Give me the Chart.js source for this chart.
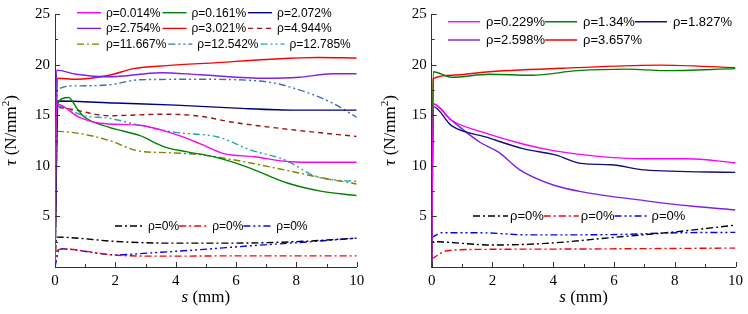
<!DOCTYPE html>
<html lang="en">
<head>
<meta charset="UTF-8">
<title>Bond stress vs slip</title>
<script src="https://cdn.jsdelivr.net/npm/chart.js"></script>
<style>
  body, html { margin: 0; padding: 0; background: #fff; overflow: hidden; }
  .panel { position: absolute; top: 0; width: 374px; height: 314px; }
</style>
</head>
<body>
<div class="panel" style="left:0"><canvas id="leftChart" width="374" height="314"></canvas></div>
<div class="panel" style="left:374px"><canvas id="rightChart" width="374" height="314"></canvas></div>
<script>
// labels
const leftLabels = ['ρ=0.014%', 'ρ=0.161%', 'ρ=2.072%', 'ρ=2.754%', 'ρ=3.021%', 'ρ=4.944%',
    'ρ=11.667%', 'ρ=12.542%', 'ρ=12.785%', 'ρ=0%', 'ρ=0%', 'ρ=0%'];
const rightLabels = ['ρ=0.229%', 'ρ=1.34%', 'ρ=1.827%', 'ρ=2.598%', 'ρ=3.657%', 'ρ=0%', 'ρ=0%', 'ρ=0%'];
const xTicks = [0, 2, 4, 6, 8, 10];
const yTicks = [5, 10, 15, 20, 25];

// left panel, [s (mm), tau (N/mm2)]
const L_0014 = [[0,0],[0.05,16.1],[0.8,14.8],[1.5,14.2],[2.8,14.0],[3.9,13.2],[4.8,12.2],[5.6,11.2],[6.6,10.9],[7.8,10.4],[8.9,10.35],[10,10.35]];
const L_0161 = [[0,0],[0.05,16.0],[0.45,16.75],[0.72,15.7],[0.94,14.9],[1.8,13.8],[2.8,13.0],[3.6,11.9],[4.35,11.4],[5.25,10.9],[6.35,9.9],[7.7,8.3],[8.8,7.5],[10,7.05]];
const L_2072 = [[0,0],[0.1,16.4],[2,16.2],[4,16.0],[6,15.7],[8,15.5],[10,15.5]];
const L_2754 = [[0,0],[0.05,19.45],[0.7,19.05],[1.8,18.8],[3.5,19.2],[4.8,19.0],[7.0,18.65],[8.1,18.75],[9.2,19.1],[10,19.1]];
const L_3021 = [[0,0],[0.08,18.65],[0.7,18.55],[1.8,18.95],[2.6,19.6],[3.7,19.9],[5.4,20.2],[7.0,20.5],[8.7,20.7],[10,20.65]];
const L_4944 = [[0,0],[0.05,15.75],[1.8,14.95],[3.7,15.1],[4.8,14.9],[5.9,14.3],[7.6,13.65],[10,12.9]];
const L_11667 = [[0,0],[0.08,13.4],[1.15,13.0],[1.8,12.5],[2.8,11.45],[3.7,11.3],[4.8,11.1],[5.9,10.6],[7.6,9.6],[8.7,8.9],[10,8.2]];
const L_12542 = [[0,0],[0.08,17.5],[0.7,17.9],[1.8,18.0],[2.8,18.5],[4.8,18.55],[7.0,18.3],[8.1,17.5],[9.2,16.2],[10,14.8]];
const L_12785 = [[0,0],[0.08,15.9],[0.95,14.95],[1.8,14.7],[2.8,14.0],[4.0,13.3],[5.4,12.85],[6.5,11.55],[7.6,10.6],[8.7,8.9],[10,8.45]];
const L_zeroA = [[0,0],[0.05,2.95],[2.05,2.52],[3.7,2.36],[5.9,2.36],[8.1,2.52],[10,2.85]];
const L_zeroB = [[0,0],[0.05,1.55],[0.22,1.78],[2.05,1.16],[3.7,1.07],[5.9,1.1],[10,1.1]];
const L_zeroC = [[0,0],[0.15,1.8],[2.05,1.2],[3.15,1.39],[4.8,1.71],[6.5,2.1],[8.1,2.42],[10,2.85]];

// right panel
const R_0229 = [[0,0],[0.05,16.1],[0.65,14.5],[1.7,13.3],[3.0,12.15],[4.0,11.5],[5.4,10.96],[7.0,10.7],[8.4,10.7],[10,10.3]];
const R_134 = [[0,0],[0.05,19.3],[0.65,18.75],[1.9,19.05],[3.3,18.95],[4.8,19.4],[6.45,19.55],[7.65,19.4],[10,19.6]];
const R_1827 = [[0,0],[0.05,15.85],[0.65,13.97],[1.8,12.83],[3.0,11.7],[4.1,11.05],[4.9,10.24],[5.9,10.1],[7.0,9.6],[10,9.35]];
const R_2598 = [[0,0],[0.05,16.1],[0.65,14.5],[1.6,12.3],[2.2,11.35],[2.9,9.6],[4.0,8.1],[5.0,7.4],[7.0,6.56],[8.6,6.0],[10,5.63]];
const R_3657 = [[0,0],[0.05,18.6],[0.65,18.95],[1.9,19.3],[4.8,19.7],[7.5,19.95],[10,19.7]];
const R_zeroA = [[0,0],[0.02,2.5],[2.0,2.17],[3.75,2.33],[5.9,2.9],[8.1,3.5],[10,4.14]];
const R_zeroB = [[0,0.8],[0.5,1.6],[1.6,1.74],[5,1.78],[10,1.87]];
const R_zeroC = [[0,2.9],[0.33,3.38],[1.6,3.38],[3.2,3.17],[5.9,3.2],[8.1,3.38],[10,3.42]];

const leftData = [L_0014, L_0161, L_2072, L_2754, L_3021, L_4944, L_11667, L_12542, L_12785, L_zeroA, L_zeroB, L_zeroC];
const rightData = [R_0229, R_134, R_1827, R_2598, R_3657, R_zeroA, R_zeroB, R_zeroC];

// line styles
const DASH = [5, 4], DASHDOT = [7, 3, 2, 3], DASHDOTDOT = [7, 3, 2, 3, 2, 3];
const leftStyles = [
    { color: '#ff00ff', dash: [] }, { color: '#008000', dash: [] }, { color: '#000080', dash: [] },
    { color: '#8020e8', dash: [] }, { color: '#ff0000', dash: [] }, { color: '#a01010', dash: DASH },
    { color: '#808000', dash: DASHDOT }, { color: '#3a6fb0', dash: DASHDOTDOT }, { color: '#20a8a8', dash: DASHDOTDOT },
    { color: '#000000', dash: DASHDOT }, { color: '#ff0000', dash: DASHDOT }, { color: '#0000ff', dash: DASHDOTDOT }
];
const rightStyles = [
    { color: '#ff00ff', dash: [] }, { color: '#008000', dash: [] }, { color: '#10107a', dash: [] },
    { color: '#8020e8', dash: [] }, { color: '#ff0000', dash: [] },
    { color: '#000000', dash: DASHDOT }, { color: '#ff0000', dash: DASHDOT }, { color: '#0000ff', dash: DASHDOTDOT }
];

const SERIF = "'Liberation Serif', 'Times New Roman', serif";
const SANS = "'Liberation Sans', Arial, sans-serif";

function makeSets(data, labels, styles) {
    return data.map((d, i) => ({
        label: labels[i],
        data: d.map(p => ({ x: p[0], y: p[1] })),
        showLine: true,
        borderColor: styles[i].color,
        borderDash: styles[i].dash,
        borderWidth: 1.4,
        pointRadius: 0,
        fill: false,
        cubicInterpolationMode: 'monotone'
    }));
}

// inward ticks, axis titles and the in-plot legends
const decor = {
    id: 'decor',
    afterDraw(chart, args, opts) {
        const ctx = chart.ctx, xs = chart.scales.x, ys = chart.scales.y, a = chart.chartArea;
        ctx.save();
        ctx.strokeStyle = '#333';
        ctx.lineWidth = 1;
        ctx.setLineDash([]);
        ctx.beginPath();
        for (let v = 0; v <= 10; v += 1) {
            const px = Math.round(xs.getPixelForValue(v)) + 0.5;
            ctx.moveTo(px, a.bottom);
            ctx.lineTo(px, a.bottom - (v % 2 === 0 ? 5 : 3));
        }
        for (let v = 0; v <= 25; v += 2.5) {
            const py = Math.round(ys.getPixelForValue(v)) + 0.5;
            ctx.moveTo(a.left, py);
            ctx.lineTo(a.left + (v % 5 === 0 ? 5 : 3), py);
        }
        ctx.stroke();

        // x title: italic s + " (mm)"
        ctx.fillStyle = '#000';
        ctx.textBaseline = 'middle';
        ctx.textAlign = 'left';
        const fi = 'italic 17px ' + SERIF, fn = '17px ' + SERIF;
        ctx.font = fi; const w1 = ctx.measureText('s').width;
        ctx.font = fn; const w2 = ctx.measureText(' (mm)').width;
        let x0 = (a.left + a.right) / 2 - (w1 + w2) / 2;
        ctx.font = fi; ctx.fillText('s', x0, 298);
        ctx.font = fn; ctx.fillText(' (mm)', x0 + w1, 298);

        // y title: italic tau + " (N/mm" + superscript 2 + ")"
        ctx.save();
        ctx.translate(opts.yTitleX, a.top + (a.bottom - a.top) * 0.46);
        ctx.rotate(-Math.PI / 2);
        ctx.font = fi; const t1 = ctx.measureText('τ').width;
        ctx.font = fn; const t2 = ctx.measureText(' (N/mm').width;
        ctx.font = '11px ' + SERIF; const t3 = ctx.measureText('2').width;
        ctx.font = fn; const t4 = ctx.measureText(')').width;
        let p = -(t1 + t2 + t3 + t4) / 2;
        ctx.font = fi; ctx.fillText('τ', p, 0); p += t1;
        ctx.font = fn; ctx.fillText(' (N/mm', p, 0); p += t2;
        ctx.font = '11px ' + SERIF; ctx.fillText('2', p, -6); p += t3;
        ctx.font = fn; ctx.fillText(')', p, 0);
        ctx.restore();

        // legends
        for (const g of opts.groups) {
            ctx.font = g.size + 'px ' + SANS;
            g.rows.forEach((row, r) => {
                let x = g.x;
                const y = g.y + r * g.rowGap;
                row.forEach(idx => {
                    const ds = chart.data.datasets[idx];
                    ctx.strokeStyle = ds.borderColor;
                    ctx.lineWidth = 1.4;
                    ctx.setLineDash(ds.borderDash || []);
                    ctx.beginPath();
                    ctx.moveTo(x, y);
                    ctx.lineTo(x + g.lineLen, y);
                    ctx.stroke();
                    x += g.lineLen + g.gapA;
                    ctx.fillStyle = '#000';
                    ctx.fillText(ds.label, x, y + 0.5);
                    x += ctx.measureText(ds.label).width + g.gapB;
                });
            });
        }
        ctx.restore();
    }
};

function makeChart(id, datasets, cfg) {
    return new Chart(document.getElementById(id), {
        type: 'scatter',
        data: { datasets },
        plugins: [decor],
        options: {
            responsive: false,
            animation: false,
            layout: { padding: { left: 0, right: cfg.padRight, top: 9.5, bottom: 0 } },
            plugins: {
                legend: { display: false },
                tooltip: { enabled: false },
                decor: { yTitleX: cfg.yTitleX, groups: cfg.groups }
            },
            scales: {
                x: {
                    type: 'linear', min: 0, max: 10,
                    afterBuildTicks: s => { s.ticks = xTicks.map(v => ({ value: v })); },
                    ticks: { color: '#000', padding: 5, font: { family: SERIF, size: 15 } },
                    grid: { display: false, drawTicks: false },
                    border: { display: true, color: '#333' },
                    afterFit: s => { s.height = 47; }
                },
                y: {
                    min: 0, max: 25,
                    afterBuildTicks: s => { s.ticks = yTicks.map(v => ({ value: v })); },
                    ticks: { color: '#000', padding: 5, font: { family: SERIF, size: 15 } },
                    grid: { display: false, drawTicks: false },
                    border: { display: true, color: '#333' },
                    afterFit: s => { s.width = cfg.yWidth; }
                }
            }
        }
    });
}

makeChart('leftChart', makeSets(leftData, leftLabels, leftStyles), {
    padRight: 17.3, yWidth: 55, yTitleX: 12,
    groups: [
        { x: 77, y: 12.7, rowGap: 15.7, lineLen: 24, gapA: 5, gapB: 2, size: 12, rows: [[0, 1, 2], [3, 4, 5], [6, 7, 8]] },
        { x: 115, y: 226, rowGap: 0, lineLen: 29, gapA: 4, gapB: 0, size: 12, rows: [[9, 10, 11]] }
    ]
});

makeChart('rightChart', makeSets(rightData, rightLabels, rightStyles), {
    padRight: 9, yWidth: 57.7, yTitleX: 17,
    groups: [
        { x: 74, y: 21.7, rowGap: 18.3, lineLen: 32, gapA: 6, gapB: 0, size: 13, rows: [[0, 1, 2], [3, 4]] },
        { x: 99, y: 216, rowGap: 0, lineLen: 35, gapA: 2, gapB: 0, size: 13, rows: [[5, 6, 7]] }
    ]
});
</script>
</body>
</html>
